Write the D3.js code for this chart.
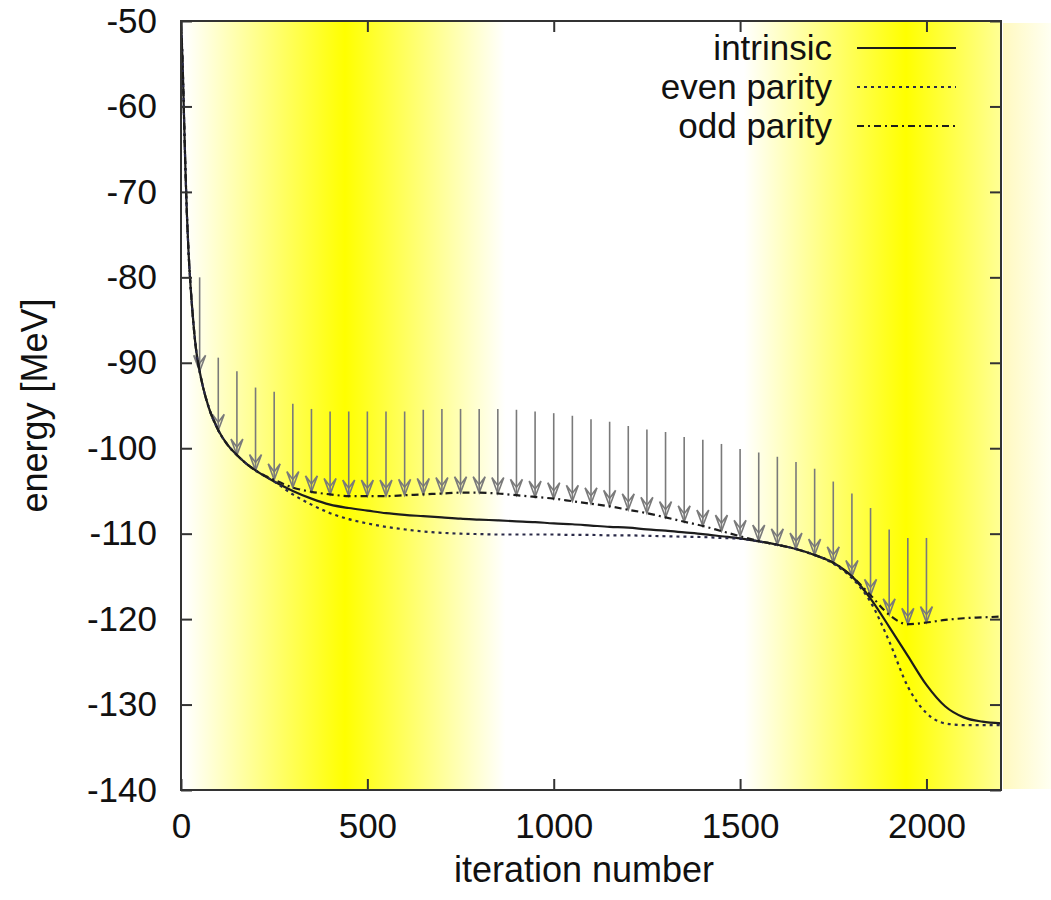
<!DOCTYPE html>
<html>
<head>
<meta charset="utf-8">
<script src="https://cdn.jsdelivr.net/npm/d3@7"></script>
<style>
  html, body { margin: 0; padding: 0; background: #ffffff; }
  svg text { font-family: "Liberation Sans", Arial, Helvetica, sans-serif; fill: #111; }
</style>
</head>
<body>
<svg id="chart" width="1051" height="900"></svg>
<script>
// Iteration grid shared by the three energy curves
const iterations = [0, 4, 8, 12, 16, 20, 25, 30, 35, 40, 50, 60, 75, 100, 125, 150, 175, 200, 250, 300, 350, 400, 450, 500, 550, 600, 650, 700, 750, 800, 850, 900, 950, 1000, 1050, 1100, 1150, 1200, 1250, 1300, 1350, 1400, 1450, 1500, 1550, 1600, 1650, 1700, 1750, 1800, 1850, 1900, 1950, 2000, 2050, 2100, 2150, 2200];

// Energies in MeV
const intrinsic = [-50, -54.5, -61, -67.5, -72.8, -76.8, -80.6, -83.6, -86.2, -88.3, -91.0, -93.0, -95.3, -97.9, -99.6, -100.8, -101.8, -102.6, -103.9, -105.0, -105.9, -106.6, -107.0, -107.3, -107.6, -107.8, -107.95, -108.1, -108.25, -108.35, -108.45, -108.55, -108.65, -108.8, -108.9, -109.05, -109.2, -109.3, -109.5, -109.65, -109.85, -110.05, -110.3, -110.55, -110.9, -111.3, -111.8, -112.5, -113.4, -115.0, -117.6, -120.9, -124.3, -127.7, -130.2, -131.5, -132.0, -132.2];

const evenParity = [-50, -54.5, -61, -67.5, -72.8, -76.8, -80.6, -83.6, -86.2, -88.3, -91.0, -93.0, -95.3, -97.9, -99.6, -100.8, -101.8, -102.6, -103.9, -105.4, -106.6, -107.6, -108.3, -108.8, -109.2, -109.5, -109.75, -109.9, -110.0, -110.05, -110.1, -110.1, -110.1, -110.1, -110.15, -110.15, -110.2, -110.2, -110.25, -110.3, -110.35, -110.4, -110.5, -110.6, -110.9, -111.3, -111.8, -112.5, -113.5, -115.2, -118.0, -122.6, -127.9, -131.0, -132.2, -132.4, -132.4, -132.4];

const oddParity = [-50, -54.5, -61, -67.5, -72.8, -76.8, -80.6, -83.6, -86.2, -88.3, -91.0, -93.0, -95.3, -97.9, -99.6, -100.8, -101.8, -102.6, -103.7, -104.6, -105.1, -105.4, -105.6, -105.6, -105.6, -105.5, -105.4, -105.3, -105.2, -105.2, -105.3, -105.5, -105.7, -105.9, -106.2, -106.5, -106.8, -107.2, -107.6, -108.1, -108.6, -109.1, -109.7, -110.3, -110.85, -111.3, -111.8, -112.5, -113.4, -115.0, -117.2, -119.5, -120.6, -120.4, -120.1, -119.9, -119.8, -119.7];

// Arrows: start energies, one every 50 iterations; each ends on the odd-parity curve
const arrowIterations = [50, 100, 150, 200, 250, 300, 350, 400, 450, 500, 550, 600, 650, 700, 750, 800, 850, 900, 950, 1000, 1050, 1100, 1150, 1200, 1250, 1300, 1350, 1400, 1450, 1500, 1550, 1600, 1650, 1700, 1750, 1800, 1850, 1900, 1950, 2000];
const arrowStarts = [-80.0, -89.4, -91.0, -92.9, -93.4, -94.8, -95.4, -95.7, -95.7, -95.7, -95.7, -95.7, -95.5, -95.4, -95.4, -95.4, -95.4, -95.5, -95.7, -95.9, -96.2, -96.6, -96.9, -97.4, -97.8, -98.1, -98.7, -99.0, -99.5, -100.1, -100.5, -101.0, -101.6, -102.4, -103.9, -105.3, -107.0, -109.5, -110.5, -110.5];

// Shaded iteration ranges (centre and half width, in iterations)
const bandCentres = [440, 1945];
const bandHalfWidths = [430, 435];

const xTicks = [0, 500, 1000, 1500, 2000];
const yTicks = [-140, -130, -120, -110, -100, -90, -80, -70, -60, -50];

const legendLabels = ["intrinsic", "even parity", "odd parity"];

const svg = d3.select("#chart");
const margin = { left: 181, top: 21, right: 1001, bottom: 790 };

const x = d3.scaleLinear().domain([0, 2200]).range([margin.left, margin.right]);
const y = d3.scaleLinear().domain([-140, -50]).range([margin.bottom, margin.top]);

const defs = svg.append("defs");
defs.append("clipPath").attr("id", "plotClip")
  .append("rect")
  .attr("x", margin.left).attr("y", margin.top)
  .attr("width", margin.right - margin.left).attr("height", margin.bottom - margin.top);

// Yellow bands: white -> yellow -> white
bandCentres.forEach((c, i) => {
  const g = defs.append("linearGradient").attr("id", "band" + i)
    .attr("gradientUnits", "userSpaceOnUse")
    .attr("x1", x(c - bandHalfWidths[i])).attr("x2", x(c + bandHalfWidths[i]))
    .attr("y1", 0).attr("y2", 0);
  [[0, "#ffffff"], [0.5, "#ffff00"], [1, "#ffffff"]]
    .forEach(([o, col]) => g.append("stop").attr("offset", o).attr("stop-color", col));
});

const bands = svg.append("g").attr("clip-path", "url(#plotClip)");
bandCentres.forEach((c, i) => {
  bands.append("rect")
    .attr("x", x(c - bandHalfWidths[i])).attr("y", margin.top)
    .attr("width", x(c + bandHalfWidths[i]) - x(c - bandHalfWidths[i]))
    .attr("height", margin.bottom - margin.top)
    .attr("fill", "url(#band" + i + ")");
});

// pale strip beyond the right border
const strip = defs.append("linearGradient").attr("id", "strip")
  .attr("x1", 0).attr("x2", 1).attr("y1", 0).attr("y2", 0);
strip.append("stop").attr("offset", 0).attr("stop-color", "#fff9c0");
strip.append("stop").attr("offset", 1).attr("stop-color", "#fffff2");
svg.append("rect")
  .attr("x", margin.right + 2).attr("y", margin.top + 2)
  .attr("width", 1051 - margin.right - 2).attr("height", margin.bottom - margin.top - 3)
  .attr("fill", "url(#strip)");

// Arrows
const plot = svg.append("g").attr("clip-path", "url(#plotClip)");
const arrowG = plot.append("g").attr("stroke", "#7a7a7a").attr("stroke-width", 1.6).attr("fill", "none");
arrowIterations.forEach((it, i) => {
  const end = oddParity[iterations.indexOf(it)];
  const ax = x(it), y0 = y(arrowStarts[i]), y1 = y(end);
  arrowG.append("line").attr("x1", ax).attr("x2", ax).attr("y1", y0).attr("y2", y1);
  arrowG.append("path")
    .attr("stroke-linejoin", "miter")
    .attr("d", `M${ax - 6},${y1 - 16} L${ax},${y1} L${ax + 6},${y1 - 16} M${ax - 6},${y1 - 16} L${ax},${y1 - 8} L${ax + 6},${y1 - 16}`);
});

// Curves
const line = d3.line().x((d, i) => x(iterations[i])).y(d => y(d)).curve(d3.curveMonotoneX);
const styles = [
  { data: intrinsic, dash: null, color: "#1c1c1c", width: 2.2 },
  { data: evenParity, dash: "3,4", color: "#2a2a48", width: 2.2 },
  { data: oddParity, dash: "7,4,2,4", color: "#1c1c1c", width: 2.2 }
];
styles.forEach(s => {
  plot.append("path").datum(s.data)
    .attr("d", line)
    .attr("fill", "none")
    .attr("stroke", s.color)
    .attr("stroke-width", s.width)
    .attr("stroke-dasharray", s.dash);
});

// Axes with inward ticks on all four sides
const tickLen = 11;
const axisColor = "#333";
const fmt = d => String(d);
const yAxisL = d3.axisLeft(y).tickValues(yTicks).tickSize(-tickLen).tickPadding(24).tickFormat(fmt);
const yAxisR = d3.axisRight(y).tickValues(yTicks).tickSize(-tickLen).tickFormat("");
const xAxisB = d3.axisBottom(x).tickValues(xTicks).tickSize(-tickLen).tickPadding(23).tickFormat(fmt);
const xAxisT = d3.axisTop(x).tickValues(xTicks).tickSize(-tickLen).tickFormat("");

function styleAxis(g) {
  g.select(".domain").remove();
  g.selectAll(".tick line").attr("stroke", axisColor).attr("stroke-width", 2);
  g.selectAll(".tick text").attr("font-size", 35).attr("fill", "#111")
    .style("font-family", '"Liberation Sans", Arial, sans-serif');
}
svg.append("g").attr("transform", `translate(${margin.left},0)`).call(yAxisL).call(styleAxis);
svg.append("g").attr("transform", `translate(${margin.right},0)`).call(yAxisR).call(styleAxis);
svg.append("g").attr("transform", `translate(0,${margin.bottom})`).call(xAxisB).call(styleAxis);
svg.append("g").attr("transform", `translate(0,${margin.top})`).call(xAxisT).call(styleAxis);

// Border
svg.append("rect")
  .attr("x", margin.left).attr("y", margin.top)
  .attr("width", margin.right - margin.left).attr("height", margin.bottom - margin.top)
  .attr("fill", "none").attr("stroke", axisColor).attr("stroke-width", 2);

// Axis titles
svg.append("text")
  .attr("x", 584).attr("y", 882)
  .attr("text-anchor", "middle").attr("font-size", 36)
  .text("iteration number");
svg.append("text")
  .attr("transform", `translate(47,${(margin.top + margin.bottom) / 2}) rotate(-90)`)
  .attr("text-anchor", "middle").attr("font-size", 36)
  .text("energy [MeV]");

// Legend
const legend = svg.append("g");
legendLabels.forEach((lab, i) => {
  const ly = 48 + i * 39;
  legend.append("text")
    .attr("x", 832).attr("y", ly).attr("dy", "0.35em")
    .attr("text-anchor", "end").attr("font-size", 35)
    .text(lab);
  legend.append("line")
    .attr("x1", 857).attr("x2", 956).attr("y1", ly).attr("y2", ly)
    .attr("stroke", styles[i].color).attr("stroke-width", 2)
    .attr("stroke-dasharray", styles[i].dash);
});
</script>
</body>
</html>
